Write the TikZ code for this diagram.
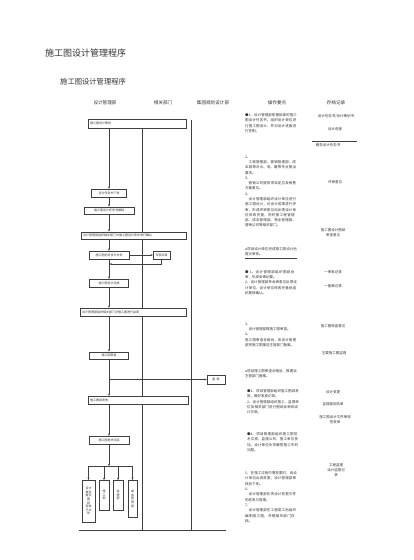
\documentclass[tikz,border=0pt]{standalone}
\usepackage{fontspec}
\setmainfont{Noto Sans CJK SC}
\XeTeXlinebreaklocale "zh"
\XeTeXlinebreakskip=0pt plus 1pt
\usetikzlibrary{arrows.meta}
\begin{document}
\begin{tikzpicture}[x=1pt,y=-1pt,
  every node/.style={text=black!80, inner sep=0pt},
  box/.style={draw=black!75, line width=0.45pt, fill=white, font=\fontsize{3}{3.6}\selectfont},
  vbox/.style={box, anchor=north, align=center, inner sep=1pt},
  arr/.style={draw=black!75, line width=0.45pt, -{Stealth[length=2.2pt,width=2pt]}},
  ln/.style={draw=black!75, line width=0.45pt},
  hdr/.style={font=\fontsize{4.6}{5}\selectfont},
  note/.style={anchor=north west, text width=52pt, align=left, font=\fontsize{3.5}{5.3}\selectfont},
  rec/.style={font=\fontsize{3.5}{5.3}\selectfont, align=center}]
\useasboundingbox[fill=white] (0,0) rectangle (413,560);

% titles
\node[anchor=west, font=\fontsize{9}{10}\selectfont] (t1) at (45,53) {施工图设计管理程序};
\node[anchor=west, font=\fontsize{7.3}{8}\selectfont] (t2) at (60,82) {施工图设计管理程序};

% headers
\node[hdr] (h1) at (105,103) {设计管理部};
\node[hdr] (h2) at (163,103) {相关部门};
\node[hdr] (h3) at (213,103) {集团规划设计部};
\node[hdr] (h4) at (277,103) {操作要点};
\node[hdr] (h5) at (336,103) {存档记录};

% lane lines
\draw[ln] (142,128) -- (142,530);
\draw[ln] (191,120) -- (191,530);
\draw[ln] (79,530) -- (226,530);

% boxes
\node[box, minimum width=98pt, minimum height=9pt, text width=94pt, align=left] (b1) at (137,123.5) {施工图设计策划};
\node[box, minimum width=35pt, minimum height=8pt] (b2) at (109,193) {设计任务书下发};
\node[box, minimum width=50pt, minimum height=7.5pt] (b3) at (109,210.5) {施工图设计任务书编制};
\node[box, minimum width=105pt, minimum height=7.5pt, text width=101pt, align=left] (b4) at (133.5,235.5) {设计管理部组织相关部门对施工图设计条件进行确认};
\node[box, minimum width=40pt, minimum height=8pt] (b5) at (109,255) {施工图初步设计文件};
\node[box, minimum width=17pt, minimum height=8pt] (b6) at (161.5,255) {专家评审};
\node[box, minimum width=39pt, minimum height=8pt] (b7) at (109,283) {施工图设计完成};
\node[box, minimum width=106pt, minimum height=8pt, text width=102pt, align=left] (b8) at (133,312) {设计管理部组织相关部门对施工图进行会审};
\node[box, minimum width=39pt, minimum height=7.5pt] (b9) at (109,355.5) {施工图审查};
\node[box, minimum width=18pt, minimum height=9pt] (b10) at (216,379.5) {备\ \ 案};
\node[box, minimum width=100pt, minimum height=8pt, text width=96pt, align=left] (b11) at (138,400) {施工图纸发放};
\node[box, minimum width=40pt, minimum height=8pt] (b12) at (109,440) {施工图技术交底};

\node[vbox, minimum width=13pt, minimum height=42pt] (va) at (88.5,480) {设计\\单位\\提交\\图\\纸\\及电\\子文\\件};
\node[vbox, minimum width=10pt, minimum height=30pt] (vb) at (104,480) {施\\工\\部};
\node[vbox, minimum width=10pt, minimum height=30pt] (vc) at (118,480) {监\\理\\部};
\node[vbox, minimum width=9pt, minimum height=37pt] (vd) at (132.5,480) {成\\本\\管\\理\\部};

% connectors
\draw[arr] (b1.south -| b2.north) -- (b2.north);
\draw[arr] (b2.south) -- (b3.north);
\draw[arr] (b3.south) -- (b3.south |- b4.north);
\draw[arr] (b3.south |- b4.south) -- (b5.north);
\draw[arr] (b5.east) -- (b6.west);
\coordinate (fb) at (109.5,264);
\draw[arr] (b6.south) |- (fb);
\draw[arr] (b5.south) -- (b7.north);
\draw[arr] (b7.south) -- (b7.south |- b8.north);
\draw[arr] (b7.south |- b8.south) -- (b9.north);
\draw[arr] (b9.south) -- (b9.south |- b11.north);
\coordinate (br) at (109,379.5);
\draw[arr] (br) -- (b10.west);
\draw[arr] (b9.south |- b11.south) -- (b12.north);
\coordinate (bb) at (109,466);
\draw[arr] (b12.south) -- (bb);
\draw[ln] (va.north |- bb) -- (vd.north |- bb);
\draw[arr] (va.north |- bb) -- (va.north);
\draw[arr] (vb.north |- bb) -- (vb.north);
\draw[arr] (vc.north |- bb) -- (vc.north);
\draw[arr] (vd.north |- bb) -- (vd.north);

% operating points
\node[note] (n1) at (245,113.5) {●1、设计管理部依据批准的施工图设计任务书，组织设计单位进行施工图设计，并对设计进度进行控制。};
\node[note] (n2) at (245,155.5) {2、\\\quad 工程管理部、营销管理部、成本部等对水、电、暖等专业提出要求。};
\node[note] (n3) at (245,176.5) {3、\\\quad 营销公司提供项目定位及销售方面意见。};
\node[note] (n4) at (245,192.5) {4、\\\quad 设计管理部组织设计单位进行施工图设计，对设计成果进行评审，形成评审意见后反馈设计单位修改完善，同时报工程管理部、成本管理部、物业管理部、营销公司等相关部门。};
\node[note] (n5) at (245,247.5) {a项目设计单位完成施工图设计后提交审核。};
\draw[ln, line width=0.3pt] (245,258) -- (297,258);
\node[note] (n6) at (245,270) {●\ 1、设计管理部组织图纸会审，形成会审纪要。\\2、设计管理部将会审意见反馈设计单位，设计单位修改完善后组织复核确认。};
\node[note] (n7) at (245,322.5) {3、\\\quad 设计管理部报施工图审查。\\4、\\施工图审查合格后，由设计管理部将施工图报送主管部门备案。};
\node[note] (n8) at (245,369.5) {a项目施工图审查合格后，报建设主管部门备案。};
\node[note] (n9) at (247,389.5) {●1、项目管理部组织施工图纸发放，做好发放记录。\\2、设计管理部组织施工、监理单位及相关部门进行图纸会审和设计交底。};
\node[note] (n10) at (247,432.5) {●4、项目管理部组织施工图技术交底，监理公司、施工单位参加，设计单位负责解答施工中的问题。};
\node[note] (n11) at (245,471.5) {5、在施工过程中需变更时，由设计单位出具变更，设计管理部审核后下发。\\6、\\\quad 设计管理部负责设计变更文件的收发与管理。\\7、\\\quad 设计管理部在工程竣工后组织编制竣工图，并报相关部门存档。};

% archive records
\node[rec] (r1) at (336,116) {设计任务书/设计策划书};
\node[rec] (r2) at (335,129) {设计进度};
\draw[ln, line width=0.3pt] (312,141) -- (357,141);
\node[rec] (r3) at (328,145.5) {服务设计任务书};
\node[rec] (r4) at (335,182) {评审意见};
\node[rec] (r5) at (333,233) {施工图设计图纸\\审查意见};
\node[rec] (r6) at (333,272) {一审批记录};
\node[rec] (r7) at (333,286) {一备案记录};
\node[rec] (r8) at (333,326) {施工图审查意见};
\node[rec] (r9) at (334,353) {主要施工图监理};
\node[rec] (r10) at (333,392) {设计变更};
\node[rec] (r11) at (333,404) {监理部回执单};
\node[rec] (r12) at (335,419.5) {施工图设计文件审核\\签发单};
\node[rec] (r13) at (336,470) {工程监理\\设计监督记\\录};
\end{tikzpicture}
\end{document}
